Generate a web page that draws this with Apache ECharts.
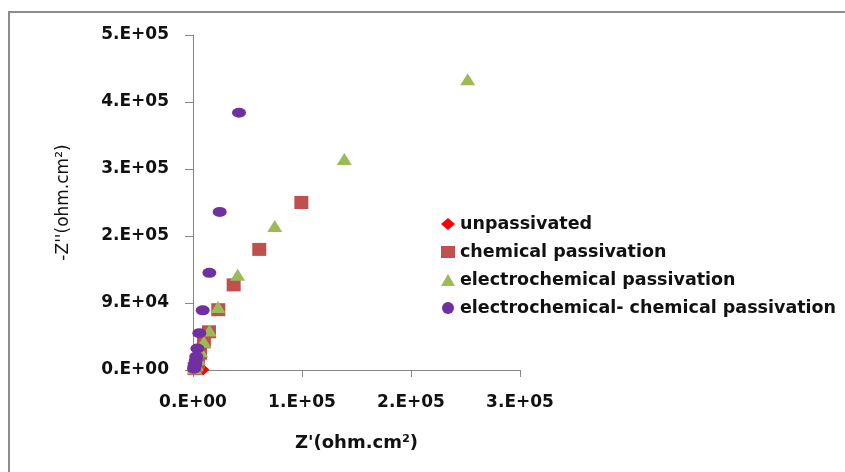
<!DOCTYPE html>
<html><head><meta charset="utf-8">
<script src="https://cdn.jsdelivr.net/npm/echarts@6/dist/echarts.min.js"></script>
<style>html,body{margin:0;padding:0;background:#fff}#c{width:845px;height:472px}</style>
</head><body><div id="c"></div>
<script>
var seriesNames = ['unpassivated','chemical passivation','electrochemical passivation','electrochemical- chemical passivation'];
var unpassivated = [[1000,200],[2000,1500],[3500,2500],[5000,2800],[6500,2500],[8000,1500],[9000,700],[9500,200]];
var chemical = [[1500,2000],[3000,6000],[4500,12000],[6400,25000],[10000,42000],[14700,57000],[23200,90000],[37300,127000],[60800,180000],[99400,250000]];
var electrochemical = [[1500,2500],[3000,8000],[5000,16000],[7000,28000],[10000,42000],[15000,59000],[23000,94000],[41000,142000],[75000,215000],[138800,315000],[252000,434000]];
var electroChemical = [[1000,2000],[1500,5000],[2000,9000],[2500,14000],[3000,20000],[4000,32000],[5800,55000],[8900,89000],[15000,145000],[24500,236000],[42200,384000]];
var xTickLabels = ['0.E+00','1.E+05','2.E+05','3.E+05'];
var yTickLabels = ['0.E+00','9.E+04','2.E+05','3.E+05','4.E+05','5.E+05'];

var chart = echarts.init(document.getElementById('c'));
var font = 'DejaVu Sans';
chart.setOption({
  animation:false,
  graphic:[{type:'rect',shape:{x:9,y:12,width:900,height:520},style:{fill:'none',stroke:'#8c8c8c',lineWidth:2},z:-1}],
  grid:{left:193,top:35,right:325,bottom:102},
  legend:{
    orient:'vertical',left:436,top:210,itemGap:10,itemWidth:14,itemHeight:12,
    textStyle:{fontFamily:font,fontSize:17.5,fontWeight:'bold',color:'#111'},
    data:[
      {name:seriesNames[0],icon:'diamond'},
      {name:seriesNames[1],icon:'rect'},
      {name:seriesNames[2],icon:'triangle'},
      {name:seriesNames[3],icon:'circle'}
    ]
  },
  xAxis:{
    type:'value',min:0,max:300000,interval:100000,
    name:"Z'(ohm.cm²)",nameLocation:'middle',nameGap:64,
    nameTextStyle:{fontFamily:font,fontSize:18,fontWeight:'bold',color:'#111'},
    axisLine:{lineStyle:{color:'#868686',width:1}},axisTick:{show:true,length:7,lineStyle:{color:'#868686'}},
    splitLine:{show:false},
    axisLabel:{margin:24,fontFamily:font,fontSize:17,fontWeight:'bold',color:'#111',
      formatter:function(v){return xTickLabels[Math.round(v/100000)];}}
  },
  yAxis:{
    type:'value',min:0,max:500000,interval:100000,
    name:"-Z''(ohm.cm²)",nameLocation:'middle',nameGap:121,
    nameTextStyle:{fontFamily:font,fontSize:17,fontWeight:'normal',color:'#111'},
    axisLine:{show:true,lineStyle:{color:'#868686',width:1}},axisTick:{show:true,length:8,lineStyle:{color:'#868686'}},
    splitLine:{show:false},
    axisLabel:{margin:24,fontFamily:font,fontSize:17,fontWeight:'bold',color:'#111',
      formatter:function(v){return yTickLabels[Math.round(v/100000)];}}
  },
  series:[
    {name:seriesNames[0],type:'scatter',symbol:'diamond',symbolSize:[12,11],itemStyle:{color:'#FF0000',opacity:1},data:unpassivated},
    {name:seriesNames[1],type:'scatter',symbol:'rect',symbolSize:[14,13],itemStyle:{color:'#C0504D',opacity:1},data:chemical},
    {name:seriesNames[2],type:'scatter',symbol:'triangle',symbolSize:[15,12],itemStyle:{color:'#9BBB59',opacity:1},data:electrochemical},
    {name:seriesNames[3],type:'scatter',symbol:'circle',symbolSize:[14,10],itemStyle:{color:'#7030A0',opacity:1},data:electroChemical}
  ]
});
</script></body></html>
